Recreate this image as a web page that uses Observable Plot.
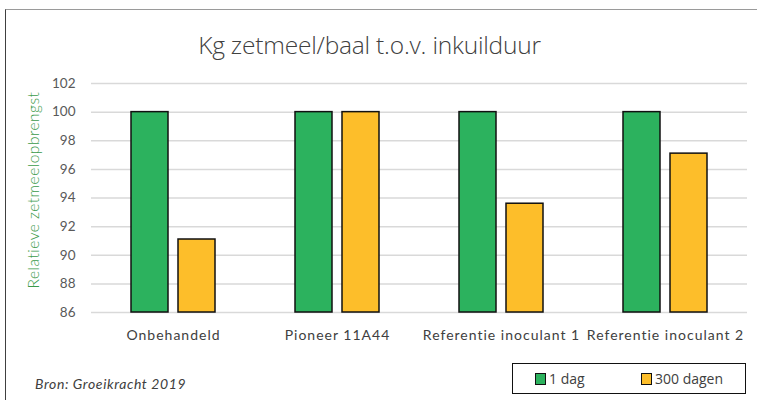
<!DOCTYPE html>
<html><head><meta charset="utf-8">
<script src="https://cdn.jsdelivr.net/npm/d3@7"></script>
<script src="https://cdn.jsdelivr.net/npm/@observablehq/plot@0.6"></script>
<style>
body{margin:0;background:#fff;}
#wrap{position:relative;width:757px;height:400px;overflow:hidden;font-family:"Open Sans",sans-serif;}
#frame{position:absolute;left:5px;top:9px;width:760px;height:400px;border:1.5px solid #404040;border-top-color:#9a9a9a;box-sizing:border-box;}
#title{position:absolute;left:-9px;width:757px;top:28px;text-align:center;font-size:24.5px;color:#404040;font-family:"Open Sans",sans-serif;font-weight:300;letter-spacing:-0.2px;}
#ylab{position:absolute;left:33px;top:190px;transform:translate(-50%,-50%) rotate(-90deg);font-size:15.5px;color:#3a9a4a;white-space:nowrap;font-family:Lato,sans-serif;font-weight:300;letter-spacing:0.5px;}
#src{position:absolute;left:35px;top:375px;font-size:14px;font-style:italic;color:#404040;font-family:Lato,sans-serif;letter-spacing:0.6px;}
#legend{position:absolute;left:512px;top:363px;width:234px;height:31px;border:1.5px solid #111;box-sizing:border-box;font-size:14px;color:#404040;}
.li{position:absolute;top:5px;display:flex;align-items:center;}
.sw{width:9px;height:10px;border:1.5px solid #111;margin-right:3px;}
svg{position:absolute;left:0;top:0;}
</style></head>
<body><div id="wrap"><div id="frame"></div><div id="chart"></div>
<div id="title"></div><div id="ylab"></div><div id="src"></div><div id="legend"></div></div>
<script>
const categories = ["Onbehandeld","Pioneer 11A44","Referentie inoculant 1","Referentie inoculant 2"];
const seriesNames = ["1 dag","300 dagen"];
const dag1 = [100,100,100,100];
const dagen300 = [91.1,100,93.6,97.1];
const yTicks = [86,88,90,92,94,96,98,100,102];
const colors = ["#2cb25e","#fdbe2a"];
const titleText = "Kg zetmeel/baal t.o.v. inkuilduur";
const yLabel = "Relatieve zetmeelopbrengst";
const sourceText = "Bron: Groeikracht 2019";

const data = [];
categories.forEach((c,i)=>{
  data.push({cat:c, s:seriesNames[0], v:dag1[i]});
  data.push({cat:c, s:seriesNames[1], v:dagen300[i]});
});

const plot = Plot.plot({
  width:757, height:400,
  marginLeft:91, marginRight:10, marginTop:83, marginBottom:88,
  style:{fontFamily:"Lato, sans-serif", fontSize:"14px", color:"#404040", background:"transparent"},
  fx:{domain:categories, padding:0, label:null, axis:"bottom", tickSize:0, tickPadding:18},
  x:{domain:seriesNames, paddingInner:0.213, paddingOuter:0.851, axis:null},
  y:{domain:[86,102], ticks:yTicks, label:null, axis:null},
  color:{domain:seriesNames, range:colors},
  marks:[
    Plot.gridY(yTicks,{stroke:"#d9d9d9", strokeOpacity:1, strokeWidth:1.5}),
    Plot.axisY(yTicks,{tickSize:0, tickPadding:16, fontSize:13.5, fill:"#595959", label:null}),
    Plot.barY(data,{fx:"cat", x:"s", y1:86, y2:"v", fill:"s", stroke:"#111", strokeWidth:1.5})
  ]
});
document.getElementById("chart").appendChild(plot);
plot.querySelectorAll("[aria-label='fx-axis tick label'] text").forEach(t=>{t.setAttribute("fill","#404040");t.style.letterSpacing="1px";t.style.fontSize="14px";});
document.getElementById("title").textContent = titleText;
document.getElementById("ylab").textContent = yLabel;
document.getElementById("src").textContent = sourceText;
const lg = document.getElementById("legend");
const lpos = [22,128];
seriesNames.forEach((n,i)=>{
  const d = document.createElement("div"); d.className="li"; d.style.left=lpos[i]+"px";
  const sw = document.createElement("div"); sw.className="sw"; sw.style.background=colors[i];
  const t = document.createElement("span"); t.textContent=n;
  d.appendChild(sw); d.appendChild(t); lg.appendChild(d);
});
</script></body></html>
